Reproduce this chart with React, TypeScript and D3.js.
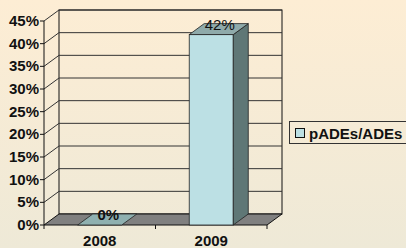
import React from "react";
import * as d3 from "d3";

const categories = ["2008", "2009"];
const values = [0, 0.42];
const valueLabels = ["0%", "42%"];
const yTicks = [0, 0.05, 0.1, 0.15, 0.2, 0.25, 0.3, 0.35, 0.4, 0.45];
const seriesName = "pADEs/ADEs";

const W = 406;
const H = 248;
const DX = 15;
const DY = -11;

export default function App() {
  const x = d3.scaleBand<string>().domain(categories).range([44, 267]).paddingInner(0.605).paddingOuter(0.3025);
  const xEdge = d3.scaleBand<string>().domain(categories).range([44, 267]).padding(0);
  const y = d3.scaleLinear().domain([0, 0.45]).range([225, 21]);
  const fmt = d3.format(".0%");
  const font = "Arial, 'Liberation Sans', sans-serif";
  const y0 = y(0);
  const yTop = y(0.45);
  const xl = 44, xr = 267;

  const pts = (arr: [number, number][]) => arr.map((p) => p.join(",")).join(" ");

  return (
    <div style={{ position: "fixed", left: 0, top: 0, width: W, height: H }}>
      <svg width={W} height={H} style={{ display: "block" }}>
        <defs>
          <linearGradient id="bg" x1="0" y1="0" x2="0" y2="1">
            <stop offset="0" stopColor="#FDEDD4" />
            <stop offset="1" stopColor="#EEE9D7" />
          </linearGradient>
        </defs>
        <rect x={0} y={0} width={W} height={H} fill="url(#bg)" />
        {/* back wall */}
        <rect x={xl + DX} y={yTop + DY} width={xr - xl} height={y0 - yTop} fill="none" stroke="#111" strokeWidth={1} />
        {/* gridlines */}
        {yTicks.map((t) => (
          <polyline
            key={t}
            points={pts([[xl, y(t)], [xl + DX, y(t) + DY], [xr + DX, y(t) + DY]])}
            fill="none"
            stroke={t === 0 ? "none" : "#333"}
            strokeWidth={1}
          />
        ))}
        {/* floor */}
        <polygon
          points={pts([[xl, y0], [xr, y0], [xr + DX, y0 + DY], [xl + DX, y0 + DY]])}
          fill="#808080"
          stroke="#111"
          strokeWidth={1}
        />
        {/* value axis */}
        <line x1={xl} y1={yTop} x2={xl} y2={y0} stroke="#111" />
        {yTicks.map((t) => (
          <g key={"t" + t}>
            <line x1={xl - 4} x2={xl} y1={y(t)} y2={y(t)} stroke="#111" />
            <text x={39} y={y(t) + 5} textAnchor="end" fontFamily={font} fontWeight="bold" fontSize={15} fill="#111">
              {fmt(t)}
            </text>
          </g>
        ))}
        {/* category ticks */}
        {[xl, xEdge("2009")!, xr].map((v, i) => (
          <line key={"c" + i} x1={v} x2={v} y1={y0} y2={y0 + 4} stroke="#111" />
        ))}
        {categories.map((c) => (
          <text key={"l" + c} x={x(c)! + x.bandwidth() / 2} y={246} textAnchor="middle" fontFamily={font} fontWeight="bold" fontSize={15} fill="#111">
            {c}
          </text>
        ))}
        {/* bars */}
        {categories.map((c, i) => {
          const bx = x(c)!;
          const bw = x.bandwidth();
          const by = y(values[i]);
          if (values[i] === 0) {
            return (
              <polygon
                key={"b" + c}
                points={pts([[bx, y0], [bx + bw, y0], [bx + bw + DX, y0 + DY], [bx + DX, y0 + DY]])}
                fill="#8FB0B0"
                stroke="#222"
                strokeWidth={0.8}
              />
            );
          }
          return (
            <g key={"b" + c}>
              <rect x={bx} y={by} width={bw} height={y0 - by} fill="#BCE0E4" stroke="#222" strokeWidth={0.8} />
              <polygon
                points={pts([[bx + bw, by], [bx + bw + DX, by + DY], [bx + bw + DX, y0 + DY], [bx + bw, y0]])}
                fill="#5F7776"
                stroke="#222"
                strokeWidth={0.8}
              />
              <polygon
                points={pts([[bx, by], [bx + DX, by + DY], [bx + bw + DX, by + DY], [bx + bw, by]])}
                fill="#8FAAAA"
                stroke="#222"
                strokeWidth={0.8}
              />
            </g>
          );
        })}
        {/* value labels */}
        {categories.map((c, i) => (
          <text
            key={"v" + c}
            x={x(c)! + x.bandwidth() / 2 + DX / 2 + 1}
            y={y(values[i]) + DY / 2 + 0.5}
            textAnchor="middle"
            fontFamily={font}
            fontWeight={values[i] === 0 ? "bold" : "normal"}
            fontSize={15}
            fill="#111"
          >
            {valueLabels[i]}
          </text>
        ))}
        {/* legend */}
        <rect x={289.5} y={121.5} width={130} height={22} fill="none" stroke="#333" strokeWidth={1} />
        <rect x={295.5} y={128.5} width={9} height={9} fill="#BCE0E4" stroke="#111" strokeWidth={1} />
        <text x={309} y={139} fontFamily={font} fontWeight="bold" fontSize={15} fill="#111">
          {seriesName}
        </text>
      </svg>
    </div>
  );
}
